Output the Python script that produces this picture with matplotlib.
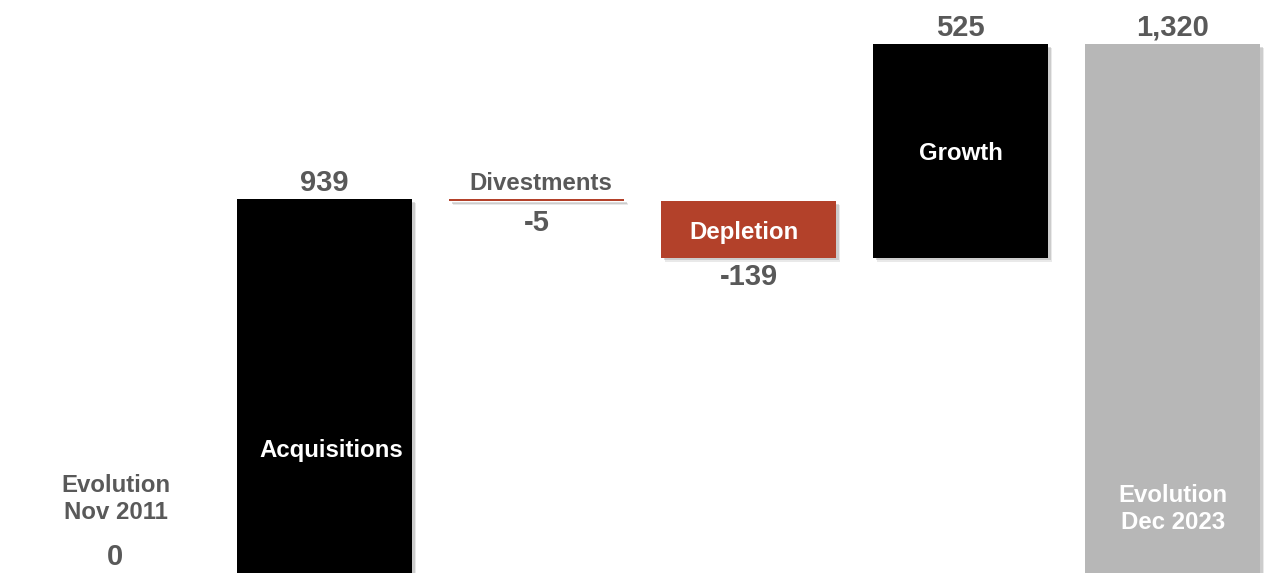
import matplotlib.pyplot as plt
import matplotlib.patheffects as pe

plt.rcParams['font.family'] = ['Liberation Sans', 'DejaVu Sans']

# waterfall steps
steps = ['Acquisitions', 'Divestments', 'Depletion', 'Growth']
deltas = [939, -5, -139, 525]
start_value = 0
start_label = 'Evolution\nNov 2011'
end_label = 'Evolution\nDec 2023'
step_colors = ['#000000', '#B3412A', '#B3412A', '#000000']
total_color = '#B7B7B7'
text_grey = '#595959'

fig = plt.figure(figsize=(12.74, 5.73), dpi=100)
ax = fig.add_axes([0, 0, 1, 1])

# soft drop shadow: a few faint offset copies
shadow = [pe.SimplePatchShadow(offset=(3, -3), shadow_rgbFace='#888888', alpha=0.18),
          pe.SimplePatchShadow(offset=(2, -2), shadow_rgbFace='#777777', alpha=0.25),
          pe.Normal()]
width = 0.825
val_fs = 21
name_fs = 17.3
# small horizontal nudges of the step names
name_dx = {'Acquisitions': 7, 'Divestments': 4, 'Depletion': -5, 'Growth': 0}


def inside(x, y, s, dx=0, dy=-3):
    ax.annotate(s, (x, y), xytext=(dx, dy), textcoords='offset pixels', ha='center',
                va='center', fontsize=name_fs, fontweight='bold', color='white',
                linespacing=1.2, annotation_clip=False)


# running totals
level = start_value
bottoms, tops = [], []
for d in deltas:
    bottoms.append(min(level, level + d))
    tops.append(max(level, level + d))
    level += d
end_value = level

# starting column: no bar, just text
ax.annotate(f'{start_value:,}', (0, start_value), xytext=(2, 10), textcoords='offset pixels',
            ha='center', va='bottom', fontsize=val_fs, fontweight='bold', color=text_grey,
            annotation_clip=False)
ax.annotate(start_label, (0, start_value), xytext=(3, 82), textcoords='offset pixels',
            ha='center', va='center', fontsize=name_fs, fontweight='bold', color=text_grey,
            linespacing=1.2, annotation_clip=False)

for i, (name, d, b, t, c) in enumerate(zip(steps, deltas, bottoms, tops, step_colors), start=1):
    ax.bar(i, t - b, bottom=b, width=width, color=c, path_effects=shadow)
    val = f'{d:,}'
    dx = name_dx[name]
    if d > 0:
        ax.annotate(val, (i, t), xytext=(0, 2), textcoords='offset pixels',
                    ha='center', va='bottom', fontsize=val_fs, fontweight='bold', color=text_grey)
        frac = 0.35 if b == 0 else 0.5
        inside(i, b + (t - b) * frac, name, dx=dx)
    elif t - b < 20:
        ax.annotate(name, (i, t), xytext=(dx, 4), textcoords='offset pixels',
                    ha='center', va='bottom', fontsize=name_fs, fontweight='bold', color=text_grey)
        ax.annotate(val, (i, b), xytext=(0, -8), textcoords='offset pixels',
                    ha='center', va='top', fontsize=val_fs, fontweight='bold', color=text_grey)
    else:
        inside(i, (b + t) / 2, name, dx=dx)
        ax.annotate(val, (i, b), xytext=(0, -5), textcoords='offset pixels',
                    ha='center', va='top', fontsize=val_fs, fontweight='bold', color=text_grey)

# closing total
n = len(steps) + 1
ax.bar(n, end_value, width=width, color=total_color, path_effects=shadow)
ax.annotate(f'{end_value:,}', (n, end_value), xytext=(0, 2), textcoords='offset pixels',
            ha='center', va='bottom', fontsize=val_fs, fontweight='bold', color=text_grey)
inside(n, 180, end_label, dy=-1)

ax.set_xlim(-0.531, 5.478)
ax.set_ylim(19.7, 1428)
ax.axis('off')

fig.savefig('out.png', dpi=100)
